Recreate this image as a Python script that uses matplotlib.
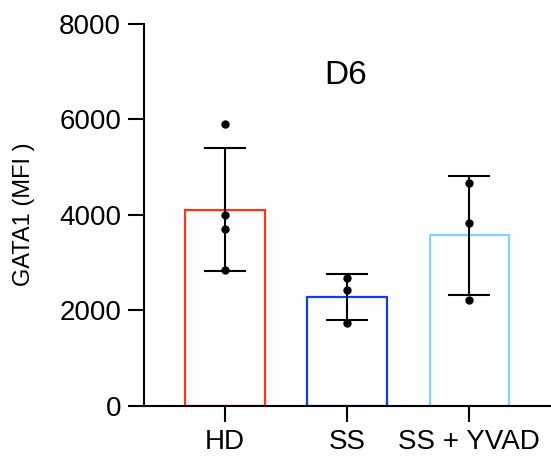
import numpy as np
from matplotlib import pyplot as plt

plt.rcParams['font.family'] = ['Liberation Sans', 'DejaVu Sans']

groups = ['HD', 'SS', 'SS + YVAD']
hd = [5900, 4000, 3690, 2840]
ss = [2670, 2430, 1740]
ss_yvad = [4660, 3820, 2220]
edge_colors = ['#ff3414', '#0f3cf5', '#80d2ff']

samples = [hd, ss, ss_yvad]
means = [np.mean(s) for s in samples]
sds = [np.std(s, ddof=1) for s in samples]
x = np.arange(len(groups))

fig = plt.figure(figsize=(5.51, 4.63), dpi=100)
ax = fig.add_axes([0.2613, 0.1238, 0.7387, 0.8252])

ax.bar(x, means, width=0.65, facecolor='white', edgecolor=edge_colors, linewidth=1.6, zorder=1)
ax.errorbar(x, means, yerr=sds, fmt='none', ecolor='black', elinewidth=1.5,
            capsize=15, capthick=1.5, zorder=2)
for i, s in enumerate(samples):
    ax.plot([x[i]] * len(s), s, 'o', color='black', markersize=5, zorder=3)

ax.text(0.99, 6920, 'D6', ha='center', va='center', fontsize=24)

ax.set_xlim(-0.664, 2.67)
ax.set_ylim(0, 8000)
ax.set_yticks([0, 2000, 4000, 6000, 8000])
ax.set_xticks(x)
ax.set_xticklabels(groups)
ax.set_ylabel('GATA1 (MFI )', fontsize=17, labelpad=17)

for side in ['top', 'right']:
    ax.spines[side].set_visible(False)
for side in ['left', 'bottom']:
    ax.spines[side].set_linewidth(1.5)
ax.tick_params(axis='both', width=1.5, length=11.5, labelsize=20, pad=5)

plt.savefig('out.png', dpi=100)
